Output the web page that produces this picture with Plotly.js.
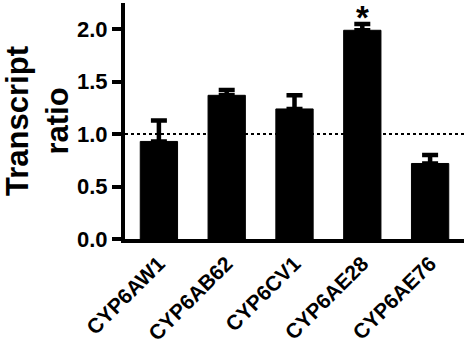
<!DOCTYPE html>
<html><head><meta charset="utf-8">
<script src="https://cdn.plot.ly/plotly-3.0.1.min.js"></script>
<style>html,body{margin:0;padding:0;background:#fff;}#chart{width:467px;height:350px;}</style>
</head><body><div id="chart"></div>
<script>
const genes = ["CYP6AW1", "CYP6AB62", "CYP6CV1", "CYP6AE28", "CYP6AE76"];
const ratios = [0.93, 1.37, 1.24, 1.99, 0.72];
const errUp = [0.20, 0.05, 0.13, 0.06, 0.08];
const yTicks = [0, 0.5, 1.0, 1.5, 2.0];
const refLevel = 1.0;
const sigGene = "CYP6AE28";

const font = "Liberation Sans, Arial, sans-serif";
const trace = {
  type: "bar", x: genes, y: ratios,
  marker: {color: "#000", line: {color: "#000", width: 1}},
  width: 0.55,
  error_y: {type: "data", symmetric: false, array: errUp, arrayminus: errUp.map(()=>0),
            color: "#000", thickness: 4.5, width: 8},
  hoverinfo: "skip"
};
const sigIdx = genes.indexOf(sigGene);
const layout = {
  width: 467, height: 350,
  margin: {l: 125, r: 3, t: 3, b: 111},
  paper_bgcolor: "#fff", plot_bgcolor: "#fff",
  showlegend: false,
  xaxis: {
    range: [-0.5, 4.5], showline: true, linecolor: "#000", linewidth: 4,
    ticks: "", tickangle: -45, showgrid: false, zeroline: false,
    tickfont: {family: font, size: 21, color: "#000", weight: "bold"}
  },
  yaxis: {
    range: [0, 2.25], tickvals: yTicks, tickformat: ".1f",
    showline: true, linecolor: "#000", linewidth: 4,
    ticks: "outside", ticklen: 9, tickwidth: 4, tickcolor: "#000",
    showgrid: false, zeroline: false,
    tickfont: {family: font, size: 22, color: "#000", weight: "bold"},
    title: {text: "Transcript<br>ratio", standoff: 12,
            font: {family: font, size: 31, color: "#000", weight: "bold"}}
  },
  shapes: [{type: "line", xref: "paper", x0: 0, x1: 1, yref: "y", y0: refLevel, y1: refLevel,
            line: {color: "#000", width: 2, dash: "dot"}, layer: "below"}],
  annotations: [{x: genes[sigIdx], y: ratios[sigIdx] + errUp[sigIdx], yshift: -14,
                 text: "*", showarrow: false, yanchor: "bottom",
                 font: {family: font, size: 33, color: "#000", weight: "bold"}}]
};
Plotly.newPlot("chart", [trace], layout, {displayModeBar: false, staticPlot: true});
</script></body></html>
